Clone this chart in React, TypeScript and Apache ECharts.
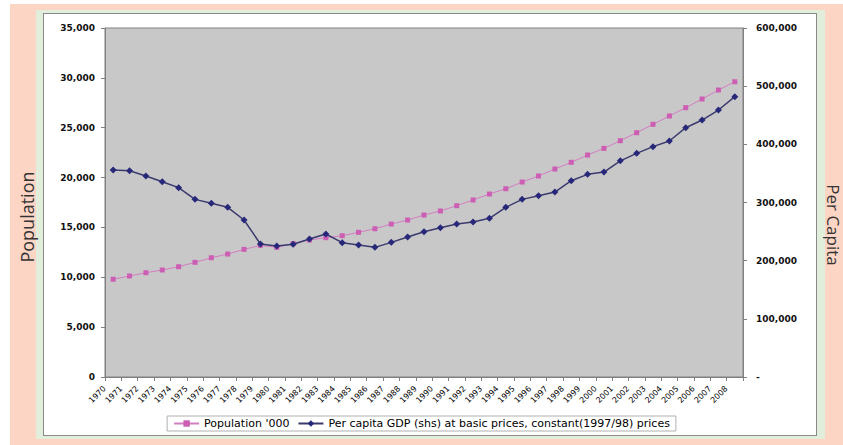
import React, { useEffect, useRef } from "react";
import * as echarts from "echarts";

const years: string[] = [
  "1970","1971","1972","1973","1974","1975","1976","1977","1978","1979",
  "1980","1981","1982","1983","1984","1985","1986","1987","1988","1989",
  "1990","1991","1992","1993","1994","1995","1996","1997","1998","1999",
  "2000","2001","2002","2003","2004","2005","2006","2007","2008",
];

const population: number[] = [
  9800, 10130, 10460, 10730, 11060, 11500, 11960, 12330, 12800, 13200,
  13000, 13370, 13740, 13970, 14170, 14510, 14870, 15340, 15740, 16245,
  16650, 17180, 17750, 18350, 18880, 19550, 20160, 20860, 21530, 22260,
  22930, 23700, 24500, 25340, 26175, 27010, 27880, 28780, 29610,
];

const gdpPerCapita: number[] = [
  355900, 354700, 345600, 335800, 325500, 305400, 298600, 291700, 269900, 228700,
  225200, 228100, 237200, 245800, 230900, 226900, 222900, 231500, 240600, 249800,
  256700, 263000, 266500, 272800, 291700, 305400, 311700, 318000, 337500, 348400,
  352400, 371600, 384500, 396000, 405700, 428600, 441800, 459000, 481900,
];

const seriesNames: string[] = [
  "Population '000",
  "Per capita GDP (shs) at basic prices, constant(1997/98) prices",
];

const fmt = (v: number) => v.toLocaleString("en-US");
const FONT = "DejaVu Sans";

export default function App() {
  const ref = useRef<HTMLDivElement>(null);

  useEffect(() => {
    if (!ref.current) return;
    const chart = echarts.init(ref.current, undefined, { renderer: "svg" });
    chart.setOption({
      animation: false,
      backgroundColor: "transparent",
      grid: {
        left: 105,
        top: 28,
        right: 100,
        bottom: 68,
        show: true,
        backgroundColor: "#c8c8c8",
        borderColor: "#808080",
        borderWidth: 1,
      },
      legend: {
        left: "center",
        top: 416,
        data: seriesNames,
        backgroundColor: "#ffffff",
        borderColor: "#b0b0b0",
        borderWidth: 1,
        borderRadius: 0,
        padding: [2, 6, 2, 6],
        itemWidth: 25,
        itemHeight: 8,
        itemGap: 8,
        textStyle: { fontFamily: FONT, fontSize: 11, color: "#000" },
      },
      xAxis: {
        type: "category",
        data: years,
        boundaryGap: true,
        axisLine: { show: true, lineStyle: { color: "#808080", width: 1 } },
        axisTick: { show: true, interval: 0, length: 4, lineStyle: { color: "#808080" } },
        axisLabel: {
          interval: 0,
          rotate: 45,
          margin: 2,
          padding: [0, 12, 0, 0],
          fontFamily: FONT,
          fontSize: 8,
          color: "#000",
        },
        splitLine: { show: false },
      },
      yAxis: [
        {
          type: "value",
          min: 0,
          max: 35000,
          interval: 5000,
          position: "left",
          axisLine: { show: true, lineStyle: { color: "#808080" } },
          axisTick: { show: true, length: 4, lineStyle: { color: "#808080" } },
          axisLabel: {
            formatter: (v: number) => fmt(v),
            fontFamily: FONT,
            fontSize: 9,
            fontWeight: "bold",
            color: "#111",
            margin: 10,
          },
          splitLine: { show: false },
        },
        {
          type: "value",
          min: 0,
          max: 600000,
          interval: 100000,
          position: "right",
          axisLine: { show: true, lineStyle: { color: "#808080" } },
          axisTick: { show: true, length: 4, lineStyle: { color: "#808080" } },
          axisLabel: {
            formatter: (v: number) => (v === 0 ? "-" : fmt(v)),
            fontFamily: FONT,
            fontSize: 9,
            fontWeight: "bold",
            color: "#111",
            margin: 13,
          },
          splitLine: { show: false },
        },
      ],
      series: [
        {
          name: seriesNames[0],
          type: "line",
          yAxisIndex: 0,
          data: population,
          symbol: "rect",
          symbolSize: 5,
          itemStyle: { color: "#cc5fb3" },
          lineStyle: { color: "#d47cc2", width: 1 },
          z: 2,
        },
        {
          name: seriesNames[1],
          type: "line",
          yAxisIndex: 1,
          data: gdpPerCapita,
          symbol: "diamond",
          symbolSize: 7,
          itemStyle: { color: "#28287a" },
          lineStyle: { color: "#3a3a6e", width: 1.5 },
          z: 3,
        },
      ],
      graphic: [
        {
          type: "text",
          x: 27,
          y: 217,
          rotation: Math.PI / 2,
          style: {
            text: "Population",
            fontFamily: "Open Sans",
            fontSize: 18,
            fill: "#333",
            align: "center",
            verticalAlign: "middle",
          },
        },
        {
          type: "text",
          x: 833,
          y: 225,
          rotation: -Math.PI / 2,
          style: {
            text: "Per Capita",
            fontFamily: "Open Sans",
            fontSize: 17,
            fill: "#333",
            align: "center",
            verticalAlign: "middle",
          },
        },
      ],
    });
    return () => chart.dispose();
  }, []);

  return (
    <div style={{ position: "absolute", left: 0, top: 0, width: 843, height: 445, background: "#fff", overflow: "hidden" }}>
      <div style={{ position: "absolute", left: 10, top: 4, width: 833, height: 441, background: "#fcd5c4" }} />
      <div style={{ position: "absolute", left: 36, top: 10, width: 789, height: 429, background: "#e2eedc" }} />
      <div
        style={{
          position: "absolute",
          left: 43,
          top: 13,
          width: 774,
          height: 423,
          background: "#fff",
          border: "1px solid #8a8a8a",
          boxSizing: "border-box",
        }}
      />
      <div ref={ref} style={{ position: "absolute", left: 0, top: 0, width: 843, height: 445 }} />
    </div>
  );
}
